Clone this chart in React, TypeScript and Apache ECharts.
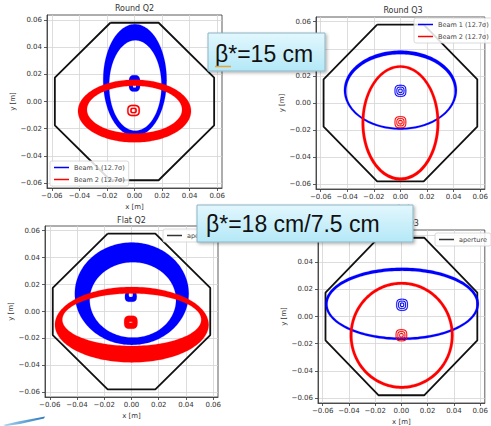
import React, { useEffect, useRef } from 'react';
import * as echarts from 'echarts';

const panelTitles = ['Round Q2', 'Round Q3', 'Flat Q2', 'Flat Q3'];
const tickValues = [-0.06, -0.04, -0.02, 0, 0.02, 0.04, 0.06];
const axisLimit = 0.0635;
const apertureX = [-0.0175, 0.0175, 0.0578, 0.0578, 0.0175, -0.0175, -0.0578, -0.0578, -0.0175];
const apertureY = [0.0578, 0.0578, 0.0175, -0.0175, -0.0578, -0.0578, -0.0175, 0.0175, 0.0578];
const beam1Name = 'Beam 1 (12.7σ)';
const beam2Name = 'Beam 2 (12.7σ)';

// shape: [cx, cy, rx, ry, cxInner, cyInner, rxInner, ryInner, roundness]
const beam1RoundQ2 = [
  [0.0003, 0.0157, 0.023, 0.041, 0.0006, 0.0117, 0.019, 0.0332, 2],
  [0, 0.0133, 0.0041, 0.006, 0, 0.0115, 0.0012, 0.0014, 3],
];
const beam2RoundQ2 = [
  [0, -0.007, 0.041, 0.023, 0, -0.006, 0.0345, 0.0175, 2],
  [-0.0007, -0.0066, 0.0046, 0.0042, -0.0007, -0.0066, 0.0036, 0.0032, 3],
  [-0.0007, -0.0066, 0.0024, 0.0021, -0.0007, -0.0066, 0.0013, 0.0011, 3],
];
const beam1RoundQ3 = [
  [0, 0.0095, 0.0425, 0.0292, 0, 0.0088, 0.0407, 0.0272, 2],
  [0, 0.009, 0.0044, 0.0044, 0, 0.009, 0.0038, 0.0038, 3],
  [0, 0.009, 0.003, 0.003, 0, 0.009, 0.0024, 0.0024, 3],
  [0, 0.009, 0.0016, 0.0016, 0, 0.009, 0.001, 0.001, 3],
];
const beam2RoundQ3 = [
  [0, -0.0147, 0.0292, 0.0425, 0, -0.0145, 0.0272, 0.0405, 2],
  [0, -0.0142, 0.0044, 0.0044, 0, -0.0142, 0.0038, 0.0038, 3],
  [0, -0.0142, 0.003, 0.003, 0, -0.0142, 0.0024, 0.0024, 3],
  [0, -0.0142, 0.0016, 0.0016, 0, -0.0142, 0.001, 0.001, 3],
];
const beam1FlatQ2 = [
  [0.0002, 0.0132, 0.0418, 0.038, 0.001, 0.0086, 0.0317, 0.028, 2],
  [-0.0005, 0.011, 0.0043, 0.0038, -0.0005, 0.0125, 0.0015, 0.0018, 3],
];
const beam2FlatQ2 = [
  [0.0002, -0.0098, 0.0564, 0.028, 0.0002, -0.0061, 0.051, 0.0195, 2],
  [-0.0005, -0.008, 0.0049, 0.0049, -0.0005, -0.008, 0.0012, 0.0004, 3],
];
const beam1FlatQ3 = [
  [0.0005, 0.0093, 0.0585, 0.0265, 0.0005, 0.009, 0.0567, 0.0245, 2],
  [0.0005, 0.0086, 0.0044, 0.0044, 0.0005, 0.0086, 0.0038, 0.0038, 3],
  [0.0005, 0.0086, 0.003, 0.003, 0.0005, 0.0086, 0.0024, 0.0024, 3],
  [0.0005, 0.0086, 0.0016, 0.0016, 0.0005, 0.0086, 0.001, 0.001, 3],
];
const beam2FlatQ3 = [
  [0.0002, -0.0138, 0.0395, 0.0392, 0.0002, -0.0138, 0.0375, 0.0372, 2],
  [0, -0.0138, 0.0044, 0.0044, 0, -0.0138, 0.0038, 0.0038, 3],
  [0, -0.0138, 0.003, 0.003, 0, -0.0138, 0.0024, 0.0024, 3],
  [0, -0.0138, 0.0016, 0.0016, 0, -0.0138, 0.001, 0.001, 3],
];

const beam1Panels = [beam1RoundQ2, beam1RoundQ3, beam1FlatQ2, beam1FlatQ3];
const beam2Panels = [beam2RoundQ2, beam2RoundQ3, beam2FlatQ2, beam2FlatQ3];

const grids = [
  { left: 47, top: 15, width: 175, height: 173 },
  { left: 316, top: 17, width: 174, height: 172 },
  { left: 45, top: 226, width: 173, height: 171 },
  { left: 318, top: 230, width: 173, height: 173 },
];
const titlePos = [
  [134.5, 8],
  [403, 10],
  [131.5, 220.5],
  [404.5, 223],
];

const FONT = '"DejaVu Sans", sans-serif';
const BLUE = '#0000ff';
const RED = '#ff0000';
const BLACK = '#111111';

function fmt(v: number) {
  const a = Math.abs(v).toFixed(2);
  return v < -1e-9 ? '−' + a : a;
}

function sePoint(cx: number, cy: number, rx: number, ry: number, n: number, t: number) {
  const c = Math.cos(t);
  const s = Math.sin(t);
  const e = 2 / n;
  return [cx + rx * Math.sign(c) * Math.pow(Math.abs(c), e), cy + ry * Math.sign(s) * Math.pow(Math.abs(s), e)];
}

function renderBand(params: any, api: any) {
  const v: number[] = [];
  for (let i = 0; i < 9; i++) v.push(api.value(i));
  const N = 180;
  const pts: number[][] = [];
  for (let i = 0; i <= N; i++) {
    const t = (2 * Math.PI * i) / N;
    pts.push(api.coord(sePoint(v[0], v[1], v[2], v[3], v[8], t)));
  }
  for (let i = N; i >= 0; i--) {
    const t = (2 * Math.PI * i) / N;
    pts.push(api.coord(sePoint(v[4], v[5], v[6], v[7], v[8], t)));
  }
  const color = api.visual('color');
  return {
    type: 'polygon',
    shape: { points: pts },
    style: { fill: color, stroke: color, lineWidth: 0.2 },
  };
}

export default function App() {
  const ref = useRef<HTMLDivElement>(null);
  useEffect(() => {
    if (!ref.current) return;
    const chart = echarts.init(ref.current, undefined, { renderer: 'svg' });

    const xAxes = grids.map((_, p) => ({
      type: 'value',
      gridIndex: p,
      min: -axisLimit,
      max: axisLimit,
      name: 'x [m]',
      nameLocation: 'middle',
      nameGap: 15,
      nameTextStyle: { fontSize: 7, color: '#333', fontFamily: FONT },
      axisLine: { show: true, onZero: false, lineStyle: { color: '#333', width: 0.8 } },
      axisTick: { show: true, customValues: tickValues, length: 3, lineStyle: { color: '#333', width: 0.8 } },
      axisLabel: { customValues: tickValues, formatter: fmt, fontSize: 7, color: '#333', margin: 4, fontFamily: FONT },
      splitLine: { show: true, lineStyle: { color: '#d4d4d4', width: 0.8 } },
    }));
    const yAxes = grids.map((_, p) => ({
      type: 'value',
      gridIndex: p,
      min: -axisLimit,
      max: axisLimit,
      name: 'y [m]',
      nameLocation: 'middle',
      nameGap: 31,
      nameTextStyle: { fontSize: 7, color: '#333', fontFamily: FONT },
      axisLine: { show: true, onZero: false, lineStyle: { color: '#333', width: 0.8 } },
      axisTick: { show: true, customValues: tickValues, length: 3, lineStyle: { color: '#333', width: 0.8 } },
      axisLabel: { customValues: tickValues, formatter: fmt, fontSize: 7, color: '#333', margin: 5, fontFamily: FONT },
      splitLine: { show: true, lineStyle: { color: '#d4d4d4', width: 0.8 } },
    }));

    const series: any[] = [];
    grids.forEach((_, p) => {
      series.push({
        type: 'line',
        name: 'aperture',
        xAxisIndex: p,
        yAxisIndex: p,
        data: apertureX.map((x, i) => [x, apertureY[i]]),
        symbol: 'none',
        color: BLACK,
        lineStyle: { color: BLACK, width: 1.8 },
        z: 2,
      });
      series.push({
        type: 'custom',
        name: beam1Name,
        xAxisIndex: p,
        yAxisIndex: p,
        data: beam1Panels[p],
        itemStyle: { color: BLUE },
        renderItem: renderBand,
        z: 3,
      });
      series.push({
        type: 'custom',
        name: beam2Name,
        xAxisIndex: p,
        yAxisIndex: p,
        data: beam2Panels[p],
        itemStyle: { color: RED },
        renderItem: renderBand,
        z: 4,
      });
    });

    const legendBase = {
      orient: 'vertical',
      icon: 'rect',
      itemWidth: 15,
      itemHeight: 1.5,
      itemGap: 5,
      padding: [3, 4],
      backgroundColor: 'rgba(255,255,255,0.85)',
      borderColor: '#d0d0d0',
      borderWidth: 0.8,
      borderRadius: 2,
      itemStyle: { borderWidth: 0 },
      lineStyle: { width: 0 },
      textStyle: { fontSize: 6.5, color: '#444', fontFamily: FONT },
      selectedMode: false,
    };
    const beamLegendData = [
      { name: beam1Name, itemStyle: { color: BLUE, borderWidth: 0 } },
      { name: beam2Name, itemStyle: { color: RED, borderWidth: 0 } },
    ];
    const apertureLegendData = [{ name: 'aperture', itemStyle: { color: '#333', borderWidth: 0 } }];

    const boxFill = new echarts.graphic.LinearGradient(0, 0, 0, 1, [
      { offset: 0, color: '#e2f7fd' },
      { offset: 1, color: '#b4e8f7' },
    ]);
    const boxStyle = {
      fill: boxFill,
      stroke: '#8db4c4',
      lineWidth: 1,
      shadowBlur: 3,
      shadowOffsetX: 1.5,
      shadowOffsetY: 1.5,
      shadowColor: 'rgba(0,0,0,0.3)',
    };
    const bigFont = '23px "Liberation Sans", Arial, sans-serif';

    const graphic: any[] = [
      ...panelTitles.map((t, i) => ({
        type: 'text',
        x: titlePos[i][0],
        y: titlePos[i][1],
        z: 50,
        style: {
          text: t,
          fill: '#333',
          font: '8px ' + FONT,
          align: 'center',
          verticalAlign: 'middle',
          textAlign: 'center',
          textVerticalAlign: 'middle',
        },
      })),
      { type: 'rect', z: 100, shape: { x: 208, y: 33, width: 117, height: 38 }, style: boxStyle },
      {
        type: 'text',
        z: 101,
        x: 215,
        y: 53.5,
        style: { text: 'β*=15 cm', font: bigFont, fill: '#111', verticalAlign: 'middle', textVerticalAlign: 'middle' },
      },
      { type: 'line', z: 102, shape: { x1: 215, y1: 66.5, x2: 231, y2: 66.5 }, style: { stroke: '#e8a33a', lineWidth: 1.5 } },
      { type: 'rect', z: 100, shape: { x: 197, y: 205, width: 216, height: 37 }, style: boxStyle },
      {
        type: 'text',
        z: 101,
        x: 206,
        y: 224,
        style: { text: 'β*=18 cm/7.5 cm', font: bigFont, fill: '#111', verticalAlign: 'middle', textVerticalAlign: 'middle' },
      },
      {
        type: 'polygon',
        z: 100,
        shape: { points: [[3, 425], [18, 421.5], [45, 416.5], [44, 418.5], [20, 424], [6, 426]] },
        style: {
          fill: new echarts.graphic.LinearGradient(0, 0, 1, 0, [
            { offset: 0, color: '#a8d6f0' },
            { offset: 1, color: '#2a78c0' },
          ]),
        },
      },
    ];

    chart.setOption({
      animation: false,
      backgroundColor: '#ffffff',
      grid: grids.map((g) => ({ ...g, show: true, borderColor: '#333', borderWidth: 0.8, backgroundColor: 'transparent' })),
      xAxis: xAxes,
      yAxis: yAxes,
      legend: [
        { ...legendBase, data: beamLegendData, left: 50, top: 161 },
        { ...legendBase, data: beamLegendData, left: 414, top: 18 },
        { ...legendBase, data: apertureLegendData, left: 163, top: 229 },
        { ...legendBase, data: apertureLegendData, left: 435, top: 233 },
      ],
      series,
      graphic,
    });
    return () => chart.dispose();
  }, []);
  return <div ref={ref} style={{ position: 'absolute', left: 0, top: 0, width: 491, height: 426, background: '#fff' }} />;
}
